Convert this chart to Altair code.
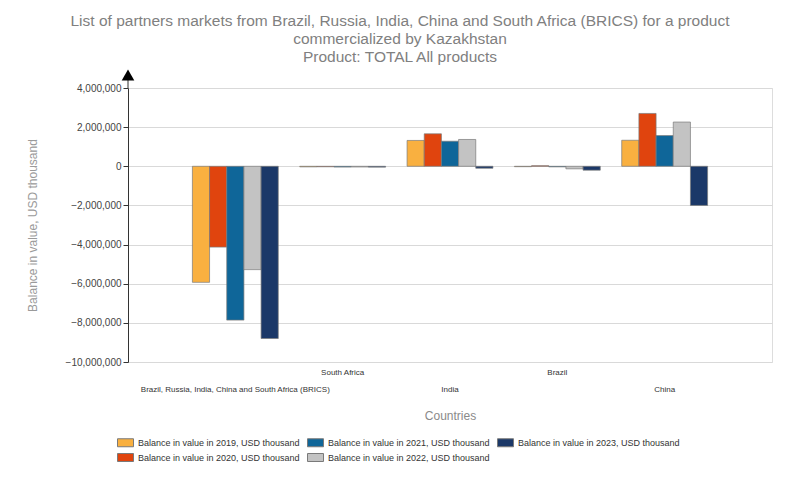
import altair as alt
import pandas as pd

countries = ["Brazil, Russia, India, China and South Africa (BRICS)", "South Africa", "India", "Brazil", "China"]
years = ["2019", "2020", "2021", "2022", "2023"]
v2019 = [-5930000, -30000, 1320000, -20000, 1330000]
v2020 = [-4130000, -25000, 1660000, 30000, 2700000]
v2021 = [-7860000, -40000, 1280000, -30000, 1570000]
v2022 = [-5280000, -35000, 1370000, -130000, 2260000]
v2023 = [-8800000, -45000, -100000, -200000, -2000000]
colors = ["#F9B040", "#E0440E", "#0F6699", "#C3C3C3", "#1B3868"]
y_ticks = [4000000, 2000000, 0, -2000000, -4000000, -6000000, -8000000, -10000000]

series = [f"Balance in value in {y}, USD thousand" for y in years]
rows = []
for s, vals in zip(series, [v2019, v2020, v2021, v2022, v2023]):
    for c, v in zip(countries, vals):
        rows.append({"country": c, "series": s, "value": v})
df = pd.DataFrame(rows)

font = "Liberation Sans"

bars = alt.Chart(df).mark_bar(stroke="#7a7a7a", strokeWidth=0.7).encode(
    x=alt.X("country:N", sort=countries,
            scale=alt.Scale(paddingInner=0.2, paddingOuter=0.6),
            title="Countries",
            axis=alt.Axis(labelAngle=0, labelFontSize=8, labelColor="#333333", labelFont=font,
                          labelLimit=400, labelOverlap=False, labelPadding=6, labelLineHeight=17,
                          labelExpr="(datum.value == 'India' || datum.value == 'China' || indexof(datum.value, 'BRICS') >= 0) ? ['', datum.value] : datum.value",
                          ticks=False, domain=False, grid=False,
                          titleFontSize=12, titleColor="#8a8a8a", titleFontWeight="normal", titleFont=font,
                          titleY=53, titleBaseline="middle")),
    xOffset=alt.XOffset("series:N", sort=series, scale=alt.Scale(paddingInner=0, paddingOuter=0)),
    y=alt.Y("value:Q", scale=alt.Scale(domain=[-10000000, 4000000], nice=False),
            title="Balance in value, USD thousand",
            axis=alt.Axis(values=y_ticks, format=",.0f", labelFontSize=10, labelColor="#444444", labelFont=font,
                          tickSize=5, tickColor="#333333", domainColor="#333333", labelPadding=2,
                          gridColor="#d9d9d9", titleFontSize=12, titleColor="#9a9a9a",
                          titleFontWeight="normal", titleFont=font,
                          titleX=-96, titleY=137, titleAlign="center", titleBaseline="middle", titleAngle=-90)),
    color=alt.Color("series:N", scale=alt.Scale(domain=series, range=colors),
                    legend=alt.Legend(orient="none", legendX=-11, legendY=346, columns=3, title=None,
                                      symbolType="M-1,-0.5L1,-0.5L1,0.5L-1,0.5Z", symbolSize=256,
                                      symbolStrokeColor="#7a7a7a", symbolStrokeWidth=1,
                                      labelFontSize=9, labelColor="#333333", labelFont=font,
                                      labelLimit=300, rowPadding=-6, columnPadding=5, symbolOffset=0))
)

arrow = alt.Chart(pd.DataFrame({"a": [0]})).mark_point(
    shape="triangle-up", filled=True, color="black", size=160, opacity=1
).encode(x=alt.value(0), y=alt.value(-13))

stem = alt.Chart(pd.DataFrame({"a": [0]})).mark_rule(color="#333333").encode(
    x=alt.value(0), y=alt.value(-8), y2=alt.value(0))

chart = alt.layer(bars, stem, arrow).properties(
    width=644, height=274,
    title=alt.TitleParams(
        text=["List of partners markets from Brazil, Russia, India, China and South Africa (BRICS) for a product",
              "commercialized by Kazakhstan", "Product: TOTAL All products"],
        fontSize=15.5, color="#808080", font=font, fontWeight="normal", anchor="middle",
        dx=-50, lineHeight=18, offset=4),
    autosize=alt.AutoSizeParams(type="none"),
    padding={"left": 120, "top": 80, "right": 20, "bottom": 110},
).configure_view(stroke="#6f7d8c", strokeWidth=1).configure(background="white")

chart.save("out.html", embed_options={"renderer": "svg", "actions": False})
